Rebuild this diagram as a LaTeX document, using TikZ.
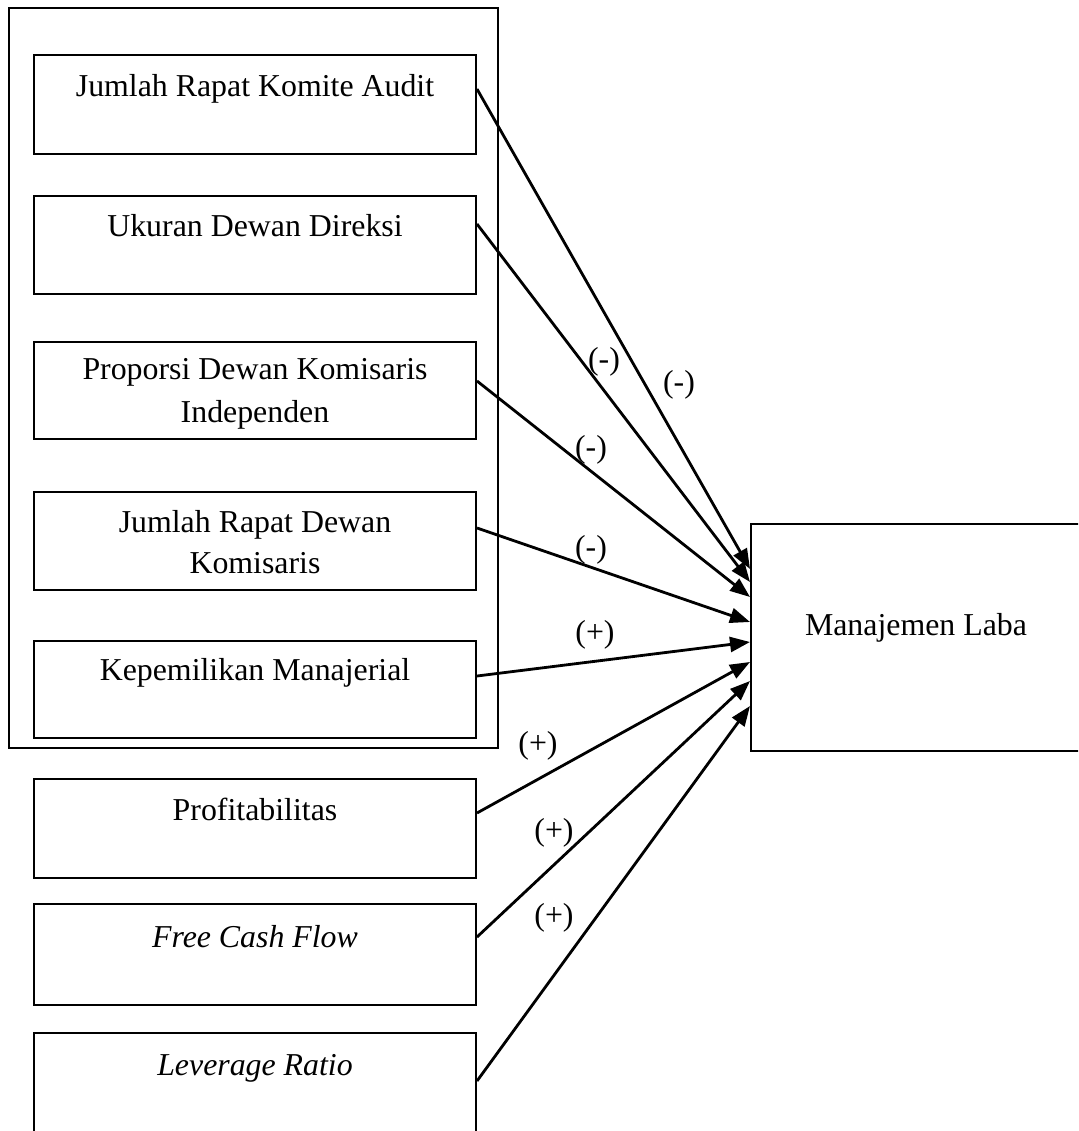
\documentclass[tikz,border=0pt]{standalone}
\usepackage{fontspec}
\setmainfont{Liberation Serif}
\usetikzlibrary{arrows.meta,calc,fit}
\begin{document}
\begin{tikzpicture}[x=1pt,y=-1pt,
  box/.style={draw,line width=2pt,inner sep=0pt},
  txt/.style={font=\fontsize{31.85}{43}\selectfont,inner sep=0pt,align=center},
  arr/.style={line width=2.8pt,-{Triangle[length=20pt,width=15pt]}},
  lbl/.style={font=\fontsize{31.85}{38}\selectfont,inner sep=0pt}]
\useasboundingbox (0,0) rectangle (1078,1131);
\clip (0,0) rectangle (1078,1131);
\fill[white] (0,0) rectangle (1078,1131);

% boxes
\node[box,fit={(9,8)(498,748)}] (outer) {};
\node[box,fit={(34,55)(476,154)}] (b1) {};
\node[box,fit={(34,196)(476,294)}] (b2) {};
\node[box,fit={(34,342)(476,439)}] (b3) {};
\node[box,fit={(34,492)(476,590)}] (b4) {};
\node[box,fit={(34,641)(476,738)}] (b5) {};
\node[box,fit={(34,779)(476,878)}] (b6) {};
\node[box,fit={(34,904)(476,1005)}] (b7) {};
\node[box,fit={(34,1033)(476,1150)}] (b8) {};
\node[box,fit={(751,524)(1090,751)}] (ml) {};

% texts
\node[txt,anchor=base] (t1) at (255,97) {Jumlah Rapat Komite Audit};
\node[txt,anchor=base] (t2) at (255,237) {Ukuran Dewan Direksi};
\node[txt,font=\fontsize{31.85}{43}\selectfont] (t3) at (255,394) {Proporsi Dewan Komisaris\\Independen};
\node[txt,font=\fontsize{31.85}{41}\selectfont] (t4) at (255,542) {Jumlah Rapat Dewan\\Komisaris};
\node[txt,anchor=base] (t5) at (255,680) {Kepemilikan Manajerial};
\node[txt,anchor=base] (t6) at (255,820) {Profitabilitas};
\node[txt,anchor=base] (t7) at (255,947) {\textit{Free Cash Flow}};
\node[txt,anchor=base] (t8) at (255,1075) {\textit{Leverage Ratio}};
\node[txt,anchor=base] (tml) at (916,635) {Manajemen Laba};

% arrows
\draw[arr] ($(b1.north east)+(0,35)$) -- ($(ml.north west)+(0,46)$);
\draw[arr] ($(b2.north east)+(0,29)$) -- ($(ml.north west)+(0,59)$);
\draw[arr] ($(b3.north east)+(0,40)$) -- ($(ml.north west)+(0,74)$);
\draw[arr] ($(b4.north east)+(0,37)$) -- ($(ml.north west)+(0,99)$);
\draw[arr] ($(b5.north east)+(0,36)$) -- ($(ml.north west)+(0,119)$);
\draw[arr] ($(b6.north east)+(0,35)$) -- ($(ml.north west)+(0,139)$);
\draw[arr] ($(b7.north east)+(0,34)$) -- ($(ml.north west)+(0,158)$);
\draw[arr] ($(b8.north east)+(0,49)$) -- ($(ml.north west)+(0,183)$);

% labels
\node[lbl] (l1) at (604,362) {(-)};
\node[lbl] (l2) at (679,385) {(-)};
\node[lbl] (l3) at (591,450) {(-)};
\node[lbl] (l4) at (591,550) {(-)};
\node[lbl] (l5) at (595,635) {(+)};
\node[lbl] (l6) at (538,746) {(+)};
\node[lbl] (l7) at (554,833) {(+)};
\node[lbl] (l8) at (554,918) {(+)};
\end{tikzpicture}
\end{document}
